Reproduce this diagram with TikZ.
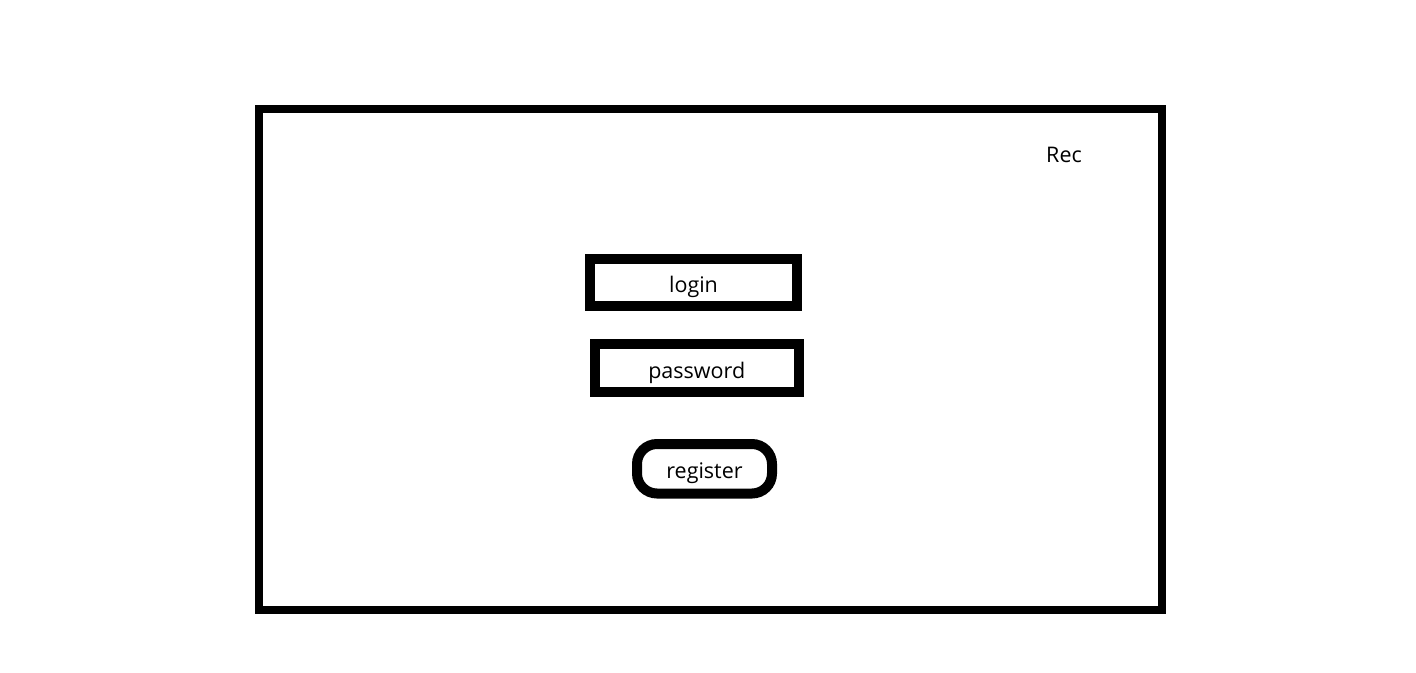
\documentclass[tikz,border=0pt]{standalone}
\usepackage{fontspec}
\setmainfont{Open Sans}
\tikzset{
  frame/.style={draw, line width=8pt, minimum width=903.5pt, minimum height=501.5pt, inner sep=0pt},
  field/.style={draw, line width=10pt, minimum height=47.5pt, inner sep=0pt, text height=20pt, text depth=0pt, font=\fontsize{21.5}{25}\selectfont},
  button/.style={field, rounded corners=20pt, minimum height=49.5pt}
}
\begin{document}
\begin{tikzpicture}[x=1pt,y=-1pt]
  \useasboundingbox (0,0) rectangle (1416,672);
  % window
  \node[frame] at (710.25,359.25) (W) {};
  \node[anchor=base, font=\fontsize{21.5}{25}\selectfont] at (1064,162) (R) {Rec};
  % fields
  \node[field, minimum width=207pt] at (693.5,282.5) (L) {login};
  \node[field, minimum width=203.5pt] at (696.75,368) (P) {password};
  % button
  \node[button, minimum width=135pt] at (704.5,468.75) (B) {register};
\end{tikzpicture}
\end{document}
